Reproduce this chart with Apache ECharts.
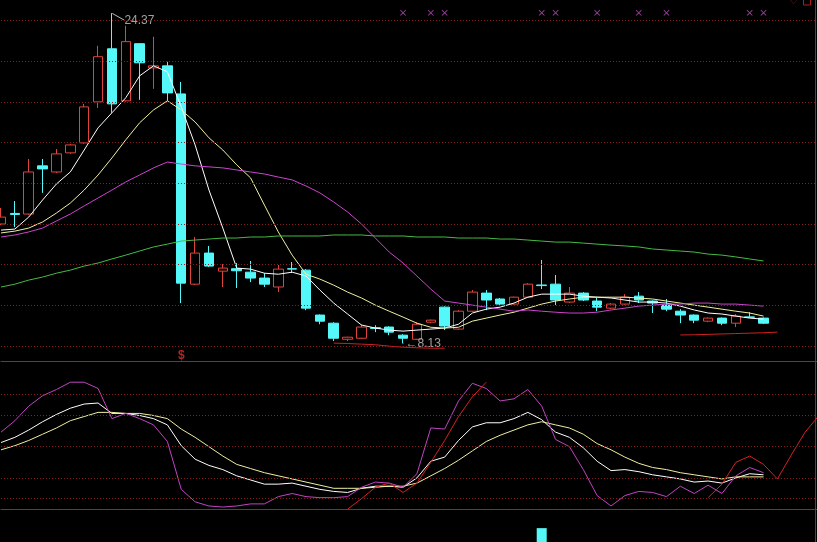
<!DOCTYPE html>
<html>
<head>
<meta charset="utf-8">
<script src="https://cdn.jsdelivr.net/npm/echarts/dist/echarts.min.js"></script>
<style>
html, body { margin: 0; padding: 0; background: #000; }
#chart { width: 817px; height: 542px; }
</style>
</head>
<body>
<div id="chart"></div>
<script>
// 60 trading slots, the last few are empty (only the red indicator runs there)
var days = [];
for (var d = 1; d <= 60; d++) days.push('D' + d);

// [open, close, low, high]
var candles = [
    [14.00, 14.34, 13.95, 14.79], [14.52, 14.47, 13.85, 15.13], [14.49, 16.56, 14.45, 17.20],
    [16.86, 16.71, 15.53, 17.20], [16.56, 17.45, 16.51, 17.69], [17.50, 17.89, 17.45, 17.93],
    [17.99, 19.76, 17.95, 19.91], [20.01, 22.23, 19.71, 22.77], [22.62, 19.91, 19.47, 24.37],
    [20.06, 22.97, 20.02, 23.75], [22.87, 21.93, 20.11, 22.90], [21.68, 21.78, 20.65, 23.21],
    [21.78, 20.45, 20.06, 21.98], [20.40, 11.09, 10.11, 20.99], [11.04, 12.57, 11.00, 13.36],
    [12.57, 11.93, 11.88, 12.92], [11.68, 11.83, 10.90, 12.03], [11.80, 11.70, 10.85, 12.08],
    [11.63, 11.34, 11.14, 12.18], [11.34, 11.04, 10.90, 11.59], [10.90, 11.78, 10.65, 11.98],
    [11.80, 11.78, 11.59, 12.13], [11.73, 9.86, 9.76, 11.78], [9.52, 9.22, 9.07, 9.55],
    [9.12, 8.38, 8.24, 9.17], [8.33, 8.43, 8.24, 8.45], [8.38, 8.93, 8.35, 9.07],
    [8.90, 8.86, 8.68, 9.02], [8.93, 8.68, 8.53, 8.97], [8.53, 8.38, 8.13, 8.58],
    [8.33, 9.07, 8.30, 9.17], [9.17, 9.27, 9.12, 9.30], [9.91, 8.98, 8.78, 9.95],
    [8.83, 9.71, 8.80, 9.76], [9.71, 10.65, 9.68, 10.75], [10.60, 10.26, 9.76, 10.75],
    [10.31, 10.06, 10.01, 10.36], [10.06, 10.40, 10.03, 10.43], [10.40, 11.04, 10.38, 11.09],
    [11.00, 10.97, 10.80, 12.23], [11.04, 10.26, 10.01, 11.49], [10.16, 10.60, 10.11, 10.90],
    [10.60, 10.26, 10.21, 10.65], [10.21, 9.91, 9.71, 10.36], [9.86, 10.06, 9.81, 10.11],
    [10.06, 10.40, 10.03, 10.55], [10.45, 10.26, 10.11, 10.65], [10.21, 10.11, 9.62, 10.24],
    [10.01, 9.81, 9.71, 10.31], [9.71, 9.52, 9.12, 9.81], [9.52, 9.27, 9.12, 9.55],
    [9.22, 9.37, 9.17, 9.40], [9.37, 9.12, 9.02, 9.40], [9.12, 9.47, 8.93, 9.57],
    [9.43, 9.41, 9.40, 9.66], [9.37, 9.12, 9.08, 9.40]
];

var ma5 = [13.70, 13.75, 14.34, 15.18, 15.97, 16.56, 17.64, 18.73, 19.47, 20.21, 21.29, 21.78, 21.49, 19.76,
    17.89, 15.67, 13.80, 11.83, 11.78, 11.58, 11.53, 11.63, 11.44, 10.75, 10.11, 9.57, 9.03, 8.88, 8.78, 8.73,
    8.78, 8.83, 8.88, 9.07, 9.62, 9.81, 9.91, 10.11, 10.40, 10.55, 10.55, 10.55, 10.45, 10.40, 10.36, 10.26,
    10.16, 10.16, 10.11, 9.96, 9.77, 9.62, 9.57, 9.47, 9.37, 9.32];
var ma10 = [13.56, 13.65, 13.80, 14.10, 14.54, 15.03, 15.67, 16.41, 17.25, 18.14, 18.98, 19.61, 20.06, 19.61,
    19.02, 18.24, 17.64, 16.91, 16.27, 14.93, 13.61, 12.47, 11.53, 11.29, 10.99, 10.65, 10.36, 10.01, 9.71, 9.42,
    9.12, 8.92, 8.88, 8.92, 9.22, 9.37, 9.52, 9.66, 9.86, 10.06, 10.21, 10.31, 10.40, 10.40, 10.40, 10.40,
    10.36, 10.31, 10.21, 10.11, 10.01, 9.91, 9.81, 9.71, 9.62, 9.47];
var ma30 = [13.36, 13.46, 13.61, 13.80, 14.15, 14.49, 14.89, 15.28, 15.67, 16.07, 16.41, 16.76, 17.05, 16.95,
    16.86, 16.81, 16.76, 16.66, 16.56, 16.46, 16.31, 16.17, 15.87, 15.53, 15.08, 14.59, 14.00, 13.31, 12.62, 12.08,
    11.44, 10.80, 10.21, 10.11, 10.01, 9.91, 9.81, 9.71, 9.77, 9.71, 9.66, 9.62, 9.62, 9.66, 9.77, 9.86,
    9.96, 10.01, 10.06, 10.06, 10.11, 10.11, 10.06, 10.06, 10.01, 9.96];
var ma60 = [10.90, 11.04, 11.24, 11.39, 11.58, 11.73, 11.93, 12.08, 12.28, 12.47, 12.67, 12.87, 13.01, 13.16,
    13.21, 13.26, 13.31, 13.31, 13.36, 13.36, 13.41, 13.41, 13.41, 13.41, 13.46, 13.46, 13.46, 13.41, 13.41, 13.41,
    13.36, 13.36, 13.36, 13.31, 13.31, 13.31, 13.26, 13.26, 13.21, 13.16, 13.11, 13.11, 13.06, 13.01, 12.96, 12.92,
    12.87, 12.77, 12.72, 12.67, 12.62, 12.52, 12.47, 12.38, 12.28, 12.18];

// red support lines under the lows
var _ = null;
var lowLine1 = [_, _, _, _, _, _, _, _, _, _, _, _, _, _, _, _, _, _, _, _, _, _, _, _,
    8.14, 8.12, 8.09, 8.06, 7.99, 7.94, 7.91, 7.89, 7.89];
var lowLine2 = [_, _, _, _, _, _, _, _, _, _, _, _, _, _, _, _, _, _, _, _, _, _, _, _, _, _, _, _, _, _,
    _, _, _, _, _, _, _, _, _, _, _, _, _, _, _, _, _, _, _,
    8.54, 8.55, 8.57, 8.59, 8.61, 8.63, 8.65, 8.68];

// signal marks along the top
var signalDays = [29, 31, 32, 39, 40, 43, 46, 48, 54, 55];
var signalLevel = 24.39;
var highDay = 8, lowDay = 29, dollarDay = 13, dollarLevel = 7.51;

// lower panel indicator
var kdjK = [54, 59, 66, 74, 81, 87, 91, 92, 82, 82, 80, 77, 71, 51, 38, 32, 28, 22, 18, 14, 14, 15, 12, 9, 7, 6,
    10, 12, 12, 11, 20, 36, 40, 56, 69, 73, 73, 77, 83, 76, 64, 59, 49, 36, 27, 28, 26, 23, 21, 19, 16, 17, 15, 20, 24, 23];
var kdjD = [47, 51, 56, 62, 68, 75, 79, 83, 83, 82, 82, 80, 77, 67, 59, 50, 41, 33, 29, 25, 22, 19, 16, 13, 10, 10,
    10, 11, 12, 12, 15, 22, 29, 37, 46, 55, 61, 66, 71, 74, 71, 68, 62, 53, 47, 40, 34, 30, 28, 25, 23, 21, 19, 21, 21, 21];
var kdjJ = [64, 75, 89, 99, 105, 112, 112, 106, 77, 82, 77, 71, 55, 9, -3, -7, -8, -7, -5, -5, 2, 5, 2, 1, 1, 2,
    11, 16, 15, 11, 24, 68, 67, 94, 111, 106, 94, 96, 105, 89, 57, 50, 28, 3, -7, 3, 7, 6, 2, 12, 5, 13, 5, 22, 30, 25];
var kdjRed = [_, _, _, _, _, _, _, _, _, _, _, _, _, _, _, _, _, _, _, _, _, _, _, _, _,
    -10, 0, 11, 15, 6, 15, 35, 56, 79, 98, 112,
    _, _, _, _, _, _, _, _, _, _, _, _, _, _, _,
    1, 14, 35, 41, 33, 19, 42, 64, 80];

// only one volume bar pokes up into view
var volume = [];
for (var v = 0; v < 60; v++) volume.push(v === 39 ? 42 : null);

var priceLevels = [8, 10, 12, 14, 16, 18, 20, 22, 24];
var kdjLevels = [0, 20, 50, 80, 100];

var gridColor = '#8a1e1e';
var frameColor = '#b01c1c';
var upColor = '#e0443c';
var downColor = '#55f8f8';

function lineSeries(name, data, color, xi) {
    return {
        name: name, type: 'line', data: data, xAxisIndex: xi, yAxisIndex: xi,
        symbol: 'none', connectNulls: false, silent: true,
        lineStyle: { color: color, width: 1 }
    };
}

function dotted(levels) {
    return {
        silent: true, symbol: ['none', 'none'], label: { show: false },
        lineStyle: { color: gridColor, type: [1, 2], width: 1 },
        data: levels.map(function (l) { return { yAxis: l }; })
    };
}

var myChart = echarts.init(document.getElementById('chart'));

var xAxisBase = function (i, line) {
    return {
        type: 'category', data: days, gridIndex: i, boundaryGap: false,
        axisTick: { show: false }, axisLabel: { show: false }, splitLine: { show: false },
        axisLine: { show: line, onZero: false, lineStyle: { color: frameColor, width: 1 } }
    };
};
var yAxisBase = function (i, min, max) {
    return {
        type: 'value', gridIndex: i, min: min, max: max, show: false,
        splitLine: { show: false }
    };
};

var option = {
    backgroundColor: '#000',
    animation: false,
    grid: [
        { left: 1, top: 0, width: 818, height: 361, outerBoundsMode: 'none' },
        { left: 1, top: 361, width: 818, height: 148, outerBoundsMode: 'none' },
        { left: 1, top: 509, width: 818, height: 33, outerBoundsMode: 'none' }
    ],
    xAxis: [xAxisBase(0, true), xAxisBase(1, true), xAxisBase(2, false)],
    yAxis: [yAxisBase(0, 7.26, 25.02), yAxisBase(1, -9.9, 132.4), yAxisBase(2, 0, 100)],
    graphic: [
        { type: 'line', shape: { x1: 815.5, y1: 0, x2: 815.5, y2: 542 }, style: { stroke: frameColor, lineWidth: 1 } },
        { type: 'rect', shape: { x: 803.5, y: -3, width: 7, height: 8 }, style: { fill: 'none', stroke: frameColor, lineWidth: 1 } },
        { type: 'text', x: 789, y: -4, style: { text: '♡', fill: '#a04040', font: '10px DejaVu Sans' } }
    ],
    series: [
        {
            name: 'K', type: 'candlestick', data: candles, xAxisIndex: 0, yAxisIndex: 0,
            barWidth: 10, clip: false, silent: true,
            itemStyle: {
                color: 'rgba(0,0,0,0)', borderColor: upColor,
                color0: downColor, borderColor0: downColor, borderWidth: 1
            },
            markLine: dotted(priceLevels)
        },
        lineSeries('MA5', ma5, '#ffffff', 0),
        lineSeries('MA10', ma10, '#f0f0a0', 0),
        lineSeries('MA30', ma30, '#cc44cc', 0),
        lineSeries('MA60', ma60, '#44bb44', 0),
        lineSeries('low1', lowLine1, '#d02020', 0),
        lineSeries('low2', lowLine2, '#d02020', 0),
        {
            name: 'signal', type: 'scatter', xAxisIndex: 0, yAxisIndex: 0, silent: true,
            data: signalDays.map(function (i) { return [i, signalLevel]; }),
            symbol: 'path://M0,1L1,0L5,4L9,0L10,1L6,5L10,9L9,10L5,6L1,10L0,9L4,5Z',
            symbolSize: 6,
            itemStyle: { color: '#c050c0' }
        },
        {
            name: 'high', type: 'scatter', xAxisIndex: 0, yAxisIndex: 0, silent: true,
            data: [[highDay, candles[highDay][3]]],
            symbolSize: 1, itemStyle: { color: '#bbbbbb' },
            label: {
                show: true, position: 'right', distance: 2, color: '#c8c8c8', fontSize: 12,
                fontFamily: 'Liberation Sans',
                formatter: function (p) { return p.value[1].toFixed(2); }
            },
            labelLayout: { dx: 10, dy: 7 },
            labelLine: { show: true, lineStyle: { color: '#bbbbbb', width: 1 } }
        },
        {
            name: 'low', type: 'scatter', xAxisIndex: 0, yAxisIndex: 0, silent: true,
            data: [[lowDay, candles[lowDay][2]]],
            symbolSize: 1, itemStyle: { color: '#bbbbbb' },
            label: {
                show: true, position: 'right', distance: 2, color: '#c8c8c8', fontSize: 12,
                fontFamily: 'Liberation Sans, DejaVu Sans',
                formatter: function (p) { return '\u2190' + p.value[1].toFixed(2); }
            }
        },
        {
            name: 'dollar', type: 'scatter', xAxisIndex: 0, yAxisIndex: 0, silent: true,
            data: [[dollarDay, dollarLevel]],
            symbolSize: 1, itemStyle: { color: 'rgba(0,0,0,0)' },
            label: {
                show: true, position: 'inside', color: '#e03030', fontSize: 12, fontWeight: 'bold',
                formatter: '$'
            }
        },
        Object.assign(lineSeries('K', kdjK, '#ffffff', 1), { markLine: dotted(kdjLevels) }),
        lineSeries('D', kdjD, '#f0f0a0', 1),
        lineSeries('J', kdjJ, '#c044c0', 1),
        lineSeries('R', kdjRed, '#d82020', 1),
        {
            name: 'VOL', type: 'bar', data: volume, xAxisIndex: 2, yAxisIndex: 2,
            barWidth: 10, silent: true, itemStyle: { color: downColor }
        }
    ]
};

option && myChart.setOption(option);
</script>
</body>
</html>
